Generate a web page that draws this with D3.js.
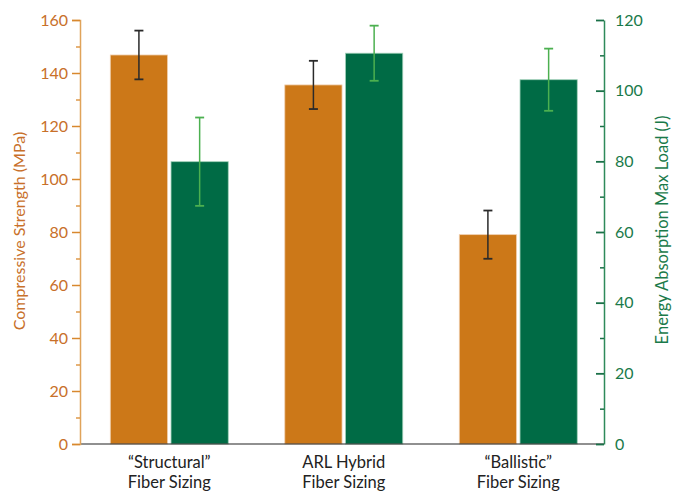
<!DOCTYPE html>
<html><head><meta charset="utf-8">
<script src="https://cdn.jsdelivr.net/npm/d3@7"></script>
<style>body{margin:0;background:#fff}</style>
</head><body>
<svg id="c" width="683" height="492"></svg>
<script>
const categories = [["\u201CStructural\u201D","Fiber Sizing"],["ARL Hybrid","Fiber Sizing"],["\u201CBallistic\u201D","Fiber Sizing"]];
const strength = [146.8, 135.5, 79];
const strengthErr = [9.2, 9.1, 9.1];
const energy = [79.9, 110.6, 103.1];
const energyErr = [12.5, 7.8, 8.8];
const leftTicks = [0,20,40,60,80,100,120,140,160];
const rightTicks = [0,20,40,60,80,100,120];

const orange = "#cc7818", green = "#006b45";
const font = "Lato, 'Open Sans', sans-serif";
const svg = d3.select("#c");
const x0 = 80, x1 = 604, yTop = 20, yBot = 444;

const x = d3.scaleBand().domain(d3.range(3)).range([92.85, 594.7]).paddingInner(0.324).paddingOuter(0.1);
const yL = d3.scaleLinear().domain([0,160]).range([yBot, yTop]);
const yR = d3.scaleLinear().domain([0,120]).range([yBot, yTop]);
const bw = x.bandwidth();
const gap = 3.5;
const barW = (bw - gap)/2;

// bars
const g = svg.append("g");
g.selectAll(".bo").data(strength).join("rect")
  .attr("x",(d,i)=>x(i)).attr("y",d=>yL(d)).attr("width",barW).attr("height",d=>yBot-yL(d))
  .attr("fill",orange).attr("stroke","#f0d0b0").attr("stroke-width",0.8);
g.selectAll(".bg").data(energy).join("rect")
  .attr("x",(d,i)=>x(i)+barW+gap).attr("y",d=>yR(d)).attr("width",barW).attr("height",d=>yBot-yR(d))
  .attr("fill",green).attr("stroke","#a0d0b8").attr("stroke-width",0.8);

// error bars
function errBars(vals, errs, scale, off, color){
  vals.forEach((v,i)=>{
    const cx = x(i)+off+barW/2;
    const t = scale(v+errs[i]), b = scale(v-errs[i]);
    g.append("line").attr("x1",cx).attr("x2",cx).attr("y1",t).attr("y2",b).attr("stroke",color).attr("stroke-width",1.5);
    [t,b].forEach(yy=>g.append("line").attr("x1",cx-4.5).attr("x2",cx+4.5).attr("y1",yy).attr("y2",yy).attr("stroke",color).attr("stroke-width",1.8));
  });
}
errBars(strength, strengthErr, yL, 0, "#2a2a2a");
errBars(energy, energyErr, yR, barW+gap, "#4cb050");

// baseline
svg.append("line").attr("x1",x0).attr("x2",x1).attr("y1",yBot).attr("y2",yBot).attr("stroke","#222").attr("stroke-width",1.2);

// left axis
const la = svg.append("g").attr("transform",`translate(${x0},0)`)
  .call(d3.axisLeft(yL).tickValues(leftTicks).tickSize(8).tickPadding(4));
la.select(".domain").attr("stroke","#e0a35a").attr("stroke-width",1.5);
la.selectAll(".tick line").attr("stroke","#d8882e").attr("stroke-width",1.5);
la.selectAll("text").attr("fill","#c8702a").attr("font-size",16).attr("font-family",font);
svg.append("g").attr("transform",`translate(${x0},0)`)
  .call(d3.axisLeft(yL).tickValues(d3.range(10,160,20)).tickSize(4).tickFormat(""))
  .call(s=>{s.select(".domain").remove(); s.selectAll("line").attr("stroke","#d8882e").attr("stroke-width",1.3);});

// right axis
const ra = svg.append("g").attr("transform",`translate(${x1},0)`)
  .call(d3.axisRight(yR).tickValues(rightTicks).tickSizeInner(-8).tickSizeOuter(0).tickPadding(11));
ra.select(".domain").attr("stroke","#2e8a5a").attr("stroke-width",1.5);
ra.selectAll(".tick line").attr("stroke","#1a7048").attr("stroke-width",1.8);
ra.selectAll("text").attr("fill","#1a7a4a").attr("font-size",16).attr("font-family",font);
svg.append("g").attr("transform",`translate(${x1},0)`)
  .call(d3.axisRight(yR).tickValues(d3.range(10,120,20)).tickSizeInner(-4).tickSizeOuter(0).tickFormat(""))
  .call(s=>{s.select(".domain").remove(); s.selectAll("line").attr("stroke","#1a7048").attr("stroke-width",1.5);});

// category labels
categories.forEach((lines,i)=>{
  const cx = x(i)+bw/2;
  lines.forEach((t,j)=>{
    svg.append("text").attr("x",cx).attr("y",468+j*20).attr("text-anchor","middle")
      .attr("font-family",font).attr("font-size",16.5).attr("fill","#222").text(t);
  });
});

// axis titles
svg.append("text").attr("transform","translate(25,231) rotate(-90)").attr("text-anchor","middle")
  .attr("font-family",font).attr("font-size",16).attr("fill","#c8702a").text("Compressive Strength (MPa)");
svg.append("text").attr("transform","translate(668,230) rotate(-90)").attr("text-anchor","middle")
  .attr("font-family",font).attr("font-size",16.5).attr("fill","#1a7a4a").text("Energy Absorption Max Load (J)");
</script>
</body></html>
